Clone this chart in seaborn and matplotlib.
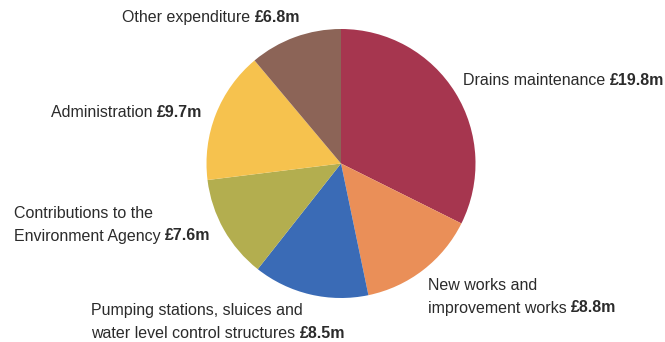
import matplotlib
matplotlib.use("Agg")
import matplotlib.pyplot as plt
import seaborn as sns

sns.set_theme(style="white")
plt.rcParams["font.family"] = ["Liberation Sans", "DejaVu Sans"]

# Expenditure by category (£m), clockwise from 12 o'clock
categories = [
    "Drains maintenance",
    "New works and\nimprovement works",
    "Pumping stations, sluices and\nwater level control structures",
    "Contributions to the\nEnvironment Agency",
    "Administration",
    "Other expenditure",
]
values = [19.8, 8.8, 8.5, 7.6, 9.7, 6.8]
colors = ["#A6364F", "#EA8F58", "#3A6BB6", "#B3AE4F", "#F6C24E", "#8C6457"]

W, H = 665, 342
fig = plt.figure(figsize=(W / 100, H / 100), dpi=100)
ax = fig.add_axes([0, 0, 1, 1])

ax.pie(values, colors=colors, startangle=90, counterclock=False,
       center=(341, 178.5), radius=134.5,
       wedgeprops=dict(linewidth=0))
ax.set_xlim(0, W)
ax.set_ylim(0, H)
ax.set_aspect("equal")
ax.axis("off")

# label anchors: left x and baseline of the first line, measured from the top
label_pos = [
    (463, 85),
    (428, 290),
    (91, 315),
    (14, 218),
    (51, 117),
    (122, 22),
]
txt = "#2b2b2b"
line_h = 22.5
fs = 11.5
renderer = fig.canvas.get_renderer()
for cat, val, (x, y) in zip(categories, values, label_pos):
    lines = cat.split("\n")
    for i, ln in enumerate(lines):
        yy = H - (y + i * line_h)
        if i == len(lines) - 1:
            t = ax.text(x, yy, ln + " ", fontsize=fs, color=txt,
                        va="baseline", ha="left")
            bb = t.get_window_extent(renderer=renderer)
            x1 = ax.transData.inverted().transform((bb.x1, bb.y0))[0]
            ax.text(x1, yy, f"£{val}m", fontsize=fs, color=txt,
                    va="baseline", ha="left", fontweight="bold")
        else:
            ax.text(x, yy, ln, fontsize=fs, color=txt, va="baseline", ha="left")

fig.savefig("out.png", dpi=100)
